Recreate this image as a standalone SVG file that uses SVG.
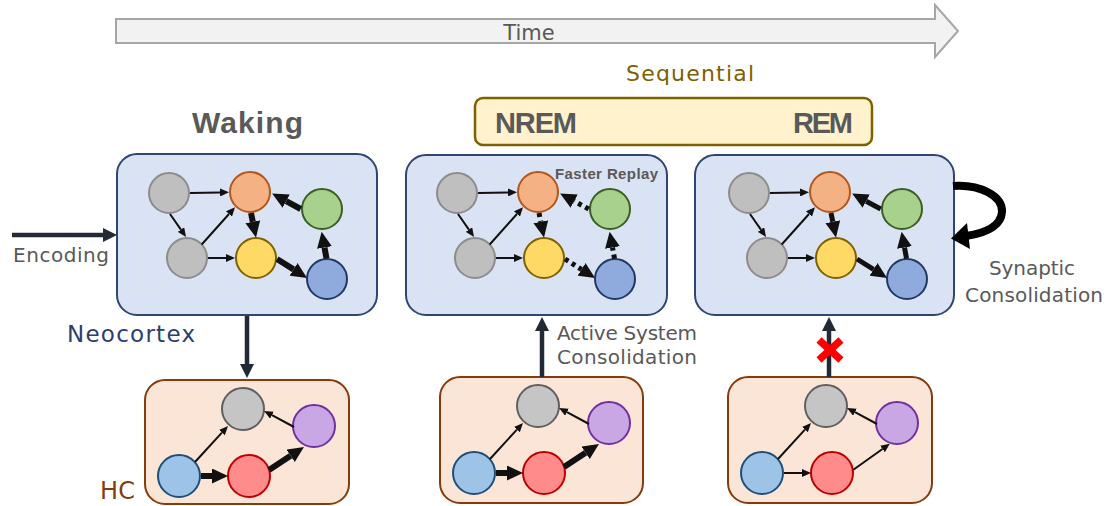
<svg xmlns="http://www.w3.org/2000/svg" width="1109" height="506" viewBox="0 0 1109 506">
<defs>
<style>
.lbl{font-family:"DejaVu Sans","Liberation Sans",sans-serif;fill:#595959}
.bold{font-family:"Liberation Sans",Arial,sans-serif;font-weight:bold;fill:#595959}
.nc{fill:#dae3f3;stroke:#2f4672;stroke-width:2}
.hc{fill:#fbe5d6;stroke:#843c0c;stroke-width:2}
.gray{fill:#bfbfbf;stroke:#8c8c8c;stroke-width:2}
.hgray{fill:#c5c5c5;stroke:#5f5f5f;stroke-width:2}
.orange{fill:#f4b183;stroke:#b4561a;stroke-width:2}
.green{fill:#a9d18e;stroke:#3b5e24;stroke-width:2}
.yellow{fill:#ffd966;stroke:#806000;stroke-width:2}
.blue{fill:#8faadc;stroke:#203864;stroke-width:2}
.hblue{fill:#9dc3e6;stroke:#1f4e79;stroke-width:2}
.red{fill:#ff8b8b;stroke:#c00000;stroke-width:2}
.purple{fill:#c9a7e4;stroke:#7030a0;stroke-width:2}
.thin{stroke:#111;stroke-width:2;fill:none;marker-end:url(#mThin)}
.thick{stroke:#111;stroke-width:6;fill:none;marker-end:url(#mThick)}
.thick4{stroke:#111;stroke-width:5;fill:none;marker-end:url(#mThick)}
.dot{stroke:#111;stroke-width:5;fill:none;stroke-dasharray:4 4;marker-end:url(#mThick)}
.hthick{stroke:#111;stroke-width:6;fill:none;marker-end:url(#mThick)}
.dark{stroke:#222a35;stroke-width:4.5;fill:none;marker-end:url(#mDark)}
</style>
<marker id="mThin" viewBox="0 0 9 8" refX="0" refY="4" markerWidth="9" markerHeight="8" markerUnits="userSpaceOnUse" orient="auto"><path d="M0,0 L9,4 L0,8 z" fill="#111"/></marker>
<marker id="mThick" viewBox="0 0 16 15" refX="0" refY="7.5" markerWidth="16" markerHeight="15" markerUnits="userSpaceOnUse" orient="auto"><path d="M0,0 L16,7.5 L0,15 z" fill="#111"/></marker>
<marker id="mDark" viewBox="0 0 14 14" refX="0" refY="7" markerWidth="14" markerHeight="14" markerUnits="userSpaceOnUse" orient="auto"><path d="M0,0 L14,7 L0,14 z" fill="#222a35"/></marker>
</defs>
<rect width="1109" height="506" fill="#ffffff"/>

<g id="time-arrow">
<polygon points="116,19 935,19 935,5 958,31 935,57 935,43 116,43" fill="#f2f2f2" stroke="#a6a6a6" stroke-width="2"/>
<text class="lbl" x="529" y="40" font-size="21" text-anchor="middle">Time</text>
</g>

<g id="sequential-label">
<text x="690" y="81" font-size="22" text-anchor="middle" textLength="128" style="font-family:'DejaVu Sans','Liberation Sans',sans-serif;fill:#7f6000">Sequential</text>
</g>

<g id="sleep-stages">
<rect x="475" y="98" width="397" height="47" rx="8" fill="#fff2cc" stroke="#7f6000" stroke-width="2.5"/>
<text class="bold" x="495" y="133" font-size="29" textLength="82">NREM</text>
<text class="bold" x="793" y="133" font-size="29" textLength="60">REM</text>
</g>

<g id="waking-label">
<text class="bold" x="192" y="133" font-size="30" textLength="111">Waking</text>
</g>

<g id="nc-waking">
<rect class="nc" x="117" y="154" width="260" height="161" rx="20"/>
<circle id="nc1-gray1" class="gray" cx="169" cy="193" r="20"/>
<circle id="nc1-orange" class="orange" cx="250" cy="192" r="20"/>
<circle id="nc1-green" class="green" cx="322" cy="209" r="20"/>
<circle id="nc1-gray2" class="gray" cx="187" cy="258" r="20"/>
<circle id="nc1-yellow" class="yellow" cx="256" cy="258" r="20"/>
<circle id="nc1-blue" class="blue" cx="327" cy="279" r="20"/>
</g>

<g id="nc-nrem">
<rect class="nc" x="406" y="155" width="261" height="160" rx="20"/>
<g transform="translate(288,0)">
<circle id="nc2-gray1" class="gray" cx="169" cy="193" r="20"/>
<circle id="nc2-orange" class="orange" cx="250" cy="192" r="20"/>
<circle id="nc2-green" class="green" cx="322" cy="209" r="20"/>
<circle id="nc2-gray2" class="gray" cx="187" cy="258" r="20"/>
<circle id="nc2-yellow" class="yellow" cx="256" cy="258" r="20"/>
<circle id="nc2-blue" class="blue" cx="327" cy="279" r="20"/>
</g>
<text class="bold" x="555" y="179" font-size="15" textLength="103">Faster Replay</text>
</g>

<g id="nc-rem">
<rect class="nc" x="695" y="155" width="259" height="160" rx="20"/>
<g transform="translate(580,0)">
<circle id="nc3-gray1" class="gray" cx="169" cy="193" r="20"/>
<circle id="nc3-orange" class="orange" cx="250" cy="192" r="20"/>
<circle id="nc3-green" class="green" cx="322" cy="209" r="20"/>
<circle id="nc3-gray2" class="gray" cx="187" cy="258" r="20"/>
<circle id="nc3-yellow" class="yellow" cx="256" cy="258" r="20"/>
<circle id="nc3-blue" class="blue" cx="327" cy="279" r="20"/>
</g>
</g>

<g id="hc-waking">
<rect class="hc" x="145" y="380" width="204" height="124" rx="20"/>
<circle id="hc1-gray" class="hgray" cx="243" cy="409" r="21"/>
<circle id="hc1-purple" class="purple" cx="314" cy="426" r="21"/>
<circle id="hc1-blue" class="hblue" cx="179" cy="476" r="21"/>
<circle id="hc1-red" class="red" cx="249" cy="476" r="21"/>
</g>

<g id="hc-nrem">
<rect class="hc" x="440" y="377" width="203" height="126" rx="20"/>
<g transform="translate(295,-3)">
<circle id="hc2-gray" class="hgray" cx="243" cy="409" r="21"/>
<circle id="hc2-purple" class="purple" cx="314" cy="426" r="21"/>
<circle id="hc2-blue" class="hblue" cx="179" cy="476" r="21"/>
<circle id="hc2-red" class="red" cx="249" cy="476" r="21"/>
</g>
</g>

<g id="hc-rem">
<rect class="hc" x="728" y="377" width="204" height="126" rx="20"/>
<g transform="translate(583,-3)">
<circle id="hc3-gray" class="hgray" cx="243" cy="409" r="21"/>
<circle id="hc3-purple" class="purple" cx="314" cy="426" r="21"/>
<circle id="hc3-blue" class="hblue" cx="179" cy="476" r="21"/>
<circle id="hc3-red" class="red" cx="249" cy="476" r="21"/>
</g>
</g>

<g id="labels">
<text class="lbl" x="13" y="262" font-size="20" textLength="96">Encoding</text>
<text x="67" y="342" font-size="23" textLength="128" style="font-family:'DejaVu Sans','Liberation Sans',sans-serif;fill:#2b3f6b">Neocortex</text>
<text x="100" y="499" font-size="24" textLength="35" style="font-family:'DejaVu Sans','Liberation Sans',sans-serif;fill:#843c0c">HC</text>
<text class="lbl" x="557" y="340" font-size="20" textLength="140">Active System</text>
<text class="lbl" x="557" y="364" font-size="20" textLength="140">Consolidation</text>
<text class="lbl" x="1032" y="275" font-size="20" text-anchor="middle" textLength="86">Synaptic</text>
<text class="lbl" x="1034" y="302" font-size="20" text-anchor="middle" textLength="138">Consolidation</text>
</g>

<g id="connectors">
<g id="edges-nc1">
<path class="thin" d="M190,193 L220,192.5"/>
<path class="thin" d="M170,214 L180.9,229.6"/>
<path class="thin" d="M201.7,244.5 L229,214"/>
<path class="thin" d="M208,258 L226,258"/>
<path class="thick" d="M251,213 L252.8,221.8"/>
<path class="thick" d="M277,259 L293.5,269.4"/>
<path class="thick" d="M326.5,258.5 L324.5,247.5"/>
<path class="thick" d="M300.7,209 L286.2,201.2"/>
</g>
<g id="edges-nc2" transform="translate(288,0)">
<path class="thin" d="M190,193 L220,192.5"/>
<path class="thin" d="M170,214 L180.9,229.6"/>
<path class="thin" d="M201.7,244.5 L229,214"/>
<path class="thin" d="M208,258 L226,258"/>
<path class="dot" d="M251,213 L252.8,221.8"/>
<path class="dot" d="M277,259 L293.5,269.4"/>
<path class="dot" d="M326.5,258.5 L324.5,247.5"/>
<path class="dot" d="M300.7,209 L286.2,201.2"/>
</g>
<g id="edges-nc3" transform="translate(580,0)">
<path class="thin" d="M190,193 L220,192.5"/>
<path class="thin" d="M170,214 L180.9,229.6"/>
<path class="thin" d="M201.7,244.5 L229,214"/>
<path class="thin" d="M208,258 L226,258"/>
<path class="thick4" d="M251,213 L252.8,221.8"/>
<path class="thick4" d="M277,259 L293.5,269.4"/>
<path class="thick4" d="M326.5,258.5 L324.5,247.5"/>
<path class="thick4" d="M300.7,209 L286.2,201.2"/>
</g>
<g id="edges-hc1">
<path class="thin" d="M195,462 L221.9,432.6"/>
<path class="thin" d="M294,427 L272,415.2"/>
<path class="hthick" d="M201,476 L212,476"/>
<path class="hthick" d="M269,470 L290.6,455.8"/>
</g>
<g id="edges-hc2" transform="translate(295,-3)">
<path class="thin" d="M195,462 L221.9,432.6"/>
<path class="thin" d="M294,427 L272,415.2"/>
<path class="hthick" d="M201,476 L212,476"/>
<path class="hthick" d="M269,470 L290.6,455.8"/>
</g>
<g id="edges-hc3" transform="translate(583,-3)">
<path class="thin" d="M195,462 L221.9,432.6"/>
<path class="thin" d="M294,427 L272,415.2"/>
<path class="thin" d="M201,476 L219,476"/>
<path class="thin" d="M270,473 L299.5,452.0"/>
</g>
<path id="encoding-arrow" class="dark" d="M12,235 L103,235"/>
<path id="nc-to-hc" class="dark" d="M247,316 L247,364"/>
<path id="hc-to-nc-nrem" class="dark" d="M542,377 L542,331"/>
<path id="hc-to-nc-rem" class="dark" d="M829,377 L829,331"/>
<g id="synaptic-loop">
<path d="M953,186 C980,184 1003,196 1002,212 C1001,226 986,233 966,236" fill="none" stroke="#000" stroke-width="8"/>
<polygon points="951,238.5 967,223 970,249" fill="#000"/>
</g>
<g id="blocked">
<line x1="819" y1="340" x2="841" y2="360" stroke="#ff0000" stroke-width="7.5"/>
<line x1="819" y1="360" x2="841" y2="340" stroke="#ff0000" stroke-width="7.5"/>
</g>
</g>
</svg>
